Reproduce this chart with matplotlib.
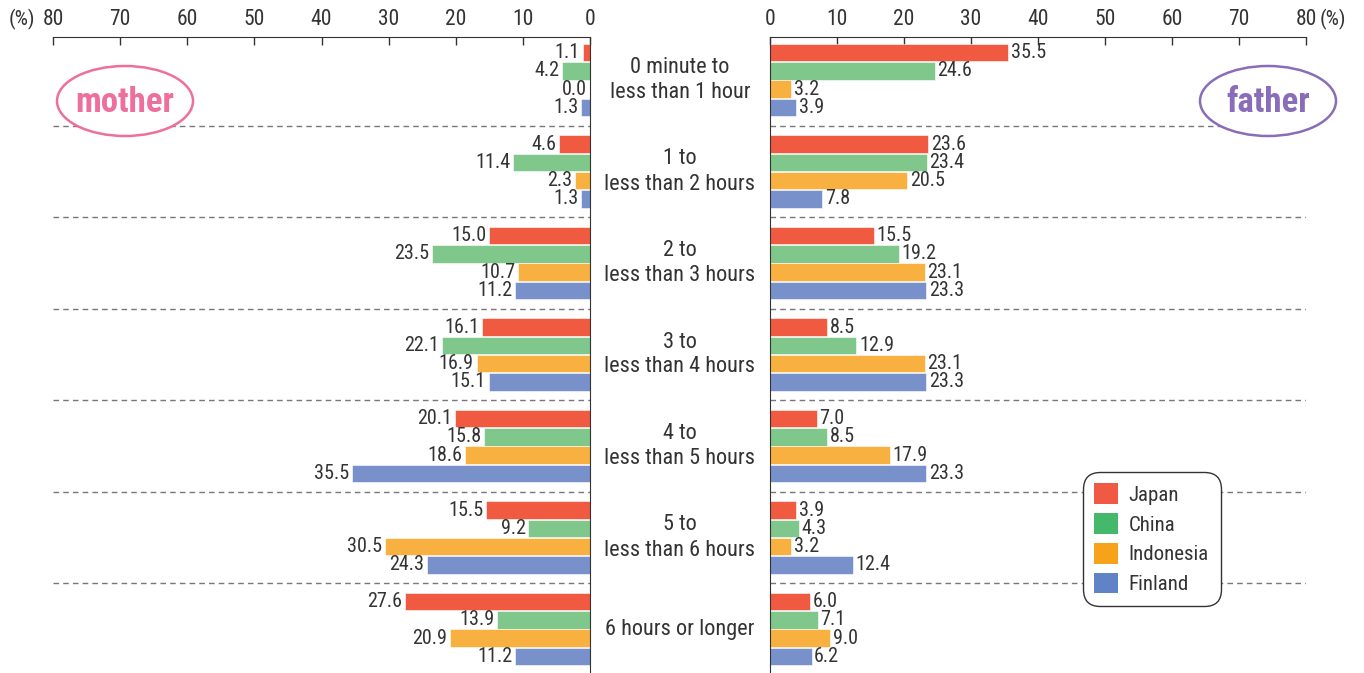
import matplotlib
matplotlib.use("Agg")
import matplotlib.pyplot as plt
from matplotlib.patches import Ellipse, Patch
from matplotlib import font_manager

categories = ["0 minute to\nless than 1 hour", "1 to\nless than 2 hours", "2 to\nless than 3 hours",
              "3 to\nless than 4 hours", "4 to\nless than 5 hours", "5 to\nless than 6 hours",
              "6 hours or longer"]
countries = ["Japan", "China", "Indonesia", "Finland"]

mother_japan = [1.1, 4.6, 15.0, 16.1, 20.1, 15.5, 27.6]
mother_china = [4.2, 11.4, 23.5, 22.1, 15.8, 9.2, 13.9]
mother_indonesia = [0.0, 2.3, 10.7, 16.9, 18.6, 30.5, 20.9]
mother_finland = [1.3, 1.3, 11.2, 15.1, 35.5, 24.3, 11.2]

father_japan = [35.5, 23.6, 15.5, 8.5, 7.0, 3.9, 6.0]
father_china = [24.6, 23.4, 19.2, 12.9, 8.5, 4.3, 7.1]
father_indonesia = [3.2, 20.5, 23.1, 23.1, 17.9, 3.2, 9.0]
father_finland = [3.9, 7.8, 23.3, 23.3, 23.3, 12.4, 6.2]

ticks = [0, 10, 20, 30, 40, 50, 60, 70, 80]

bar_colors = ["#F05A40", "#80C78C", "#F8B140", "#7891CA"]
legend_colors = ["#F05A44", "#45B96B", "#F7A21B", "#5F83C6"]

available = {f.name for f in font_manager.fontManager.ttflist}
fam = [f for f in ["Liberation Sans Narrow", "Roboto Condensed", "DejaVu Sans Condensed", "DejaVu Sans"] if f in available]
plt.rcParams['font.family'] = fam

W, H = 1364, 673
fig = plt.figure(figsize=(W / 100, H / 100), dpi=100)

top_px = 37
gcenter0 = 80
gstep = 91.5
ytop = (top_px - gcenter0) / gstep
ybot = (H - gcenter0) / gstep

axL = fig.add_axes([53 / W, 0, (590 - 53) / W, (H - top_px) / H])
axR = fig.add_axes([770 / W, 0, (1306 - 770) / W, (H - top_px) / H])

mother = [mother_japan, mother_china, mother_indonesia, mother_finland]
father = [father_japan, father_china, father_indonesia, father_finland]
offsets = [-0.3, -0.1, 0.1, 0.3]
bh = 0.19
txtc = "#333333"
fs_val = 14.5

for ax, data, side in [(axL, mother, "L"), (axR, father, "R")]:
    for s in range(4):
        ys = [i + offsets[s] for i in range(len(categories))]
        ax.barh(ys, data[s], height=bh, color=bar_colors[s], edgecolor="white", linewidth=0.4, zorder=2)
        for y, v in zip(ys, data[s]):
            if side == "L":
                ax.text(v + 0.4, y, f"{v:.1f}", ha="right", va="center", fontsize=fs_val, color=txtc, zorder=3)
            else:
                ax.text(v + 0.4, y, f"{v:.1f}", ha="left", va="center", fontsize=fs_val, color=txtc, zorder=3)
    for i in range(len(categories) - 1):
        ax.axhline(i + 0.5, color="#777777", lw=1.0, ls=(0, (4, 3)), zorder=1)
    ax.set_ylim(ybot, ytop)
    ax.set_xlim(0, 80)
    ax.set_xticks(ticks)
    ax.set_xticklabels([str(t) for t in ticks])
    ax.xaxis.tick_top()
    ax.tick_params(axis="x", direction="in", length=6, width=1, color=txtc, labelsize=15.5,
                   labelcolor=txtc, pad=5)
    ax.set_yticks([])
    for sp in ax.spines.values():
        sp.set_visible(False)
    ax.spines["top"].set_visible(True)
    ax.spines["top"].set_color(txtc)
    ax.patch.set_alpha(0)

axL.invert_xaxis()
axL.spines["right"].set_visible(True)
axL.spines["right"].set_color(txtc)
axR.spines["left"].set_visible(True)
axR.spines["left"].set_color(txtc)

# category labels
for i, c in enumerate(categories):
    ypx = gcenter0 + gstep * i
    fig.text(680 / W, 1 - ypx / H, c, ha="center", va="center", fontsize=16, color=txtc,
             linespacing=1.25)

fig.text(22 / W, 1 - 19 / H, "(%)", ha="center", va="center", fontsize=15, color=txtc)
fig.text(1333 / W, 1 - 19 / H, "(%)", ha="center", va="center", fontsize=15, color=txtc)

# ellipses
for cx, label, col in [(125, "mother", "#EE6F9C"), (1268, "father", "#8A6DB8")]:
    e = Ellipse((cx / W, 1 - 101 / H), 136 / W, 70 / H, transform=fig.transFigure,
                facecolor="white", edgecolor=col, lw=1.8, zorder=5)
    fig.add_artist(e)
    fig.text(cx / W, 1 - 102 / H, label, ha="center", va="center", fontsize=25, fontweight="bold",
             color=col, zorder=6)

handles = [Patch(facecolor=c, edgecolor="none") for c in legend_colors]
leg = fig.legend(handles, countries, loc="upper left", bbox_to_anchor=(1083 / W, 1 - 472 / H),
                 frameon=True, fontsize=15, handlelength=1.15, handleheight=1.15,
                 labelspacing=0.4, borderpad=0.55, handletextpad=0.5, fancybox=True,
                 borderaxespad=0)
leg.get_frame().set_edgecolor("#333333")
leg.get_frame().set_linewidth(1.0)
leg.get_frame().set_facecolor("white")
leg.get_frame().set_alpha(1)
leg.get_frame().set_boxstyle("round,pad=0,rounding_size=0.8")
for t in leg.get_texts():
    t.set_color(txtc)
leg.set_zorder(10)

fig.savefig("out.png", dpi=100)
